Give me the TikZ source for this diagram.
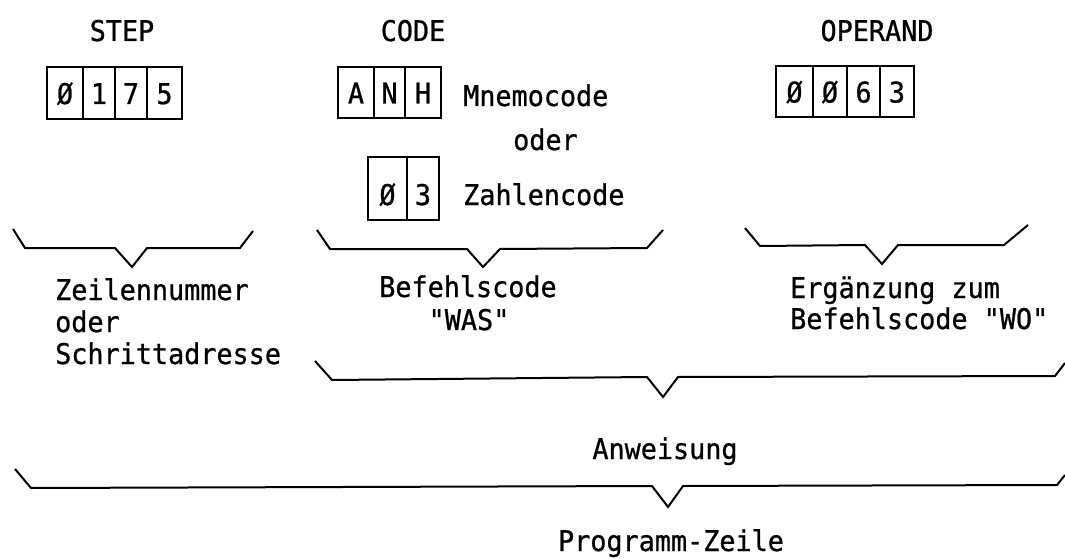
\documentclass[tikz,border=0pt]{standalone}
\usepackage{fontspec}
\setmonofont{DejaVu Sans Mono}[FakeBold=0.8, FakeStretch=0.94]
\begin{document}
\begin{tikzpicture}[x=1pt,y=-1pt,
  txt/.style={font=\ttfamily\fontsize{28.5}{32}\selectfont, inner sep=0pt},
  cell/.style={draw, line width=1.8pt, inner sep=0pt, font=\ttfamily\fontsize{28.5}{32}\selectfont,
     text height=22pt, text depth=0pt},
  brace/.style={line width=2pt, line join=miter}]
\useasboundingbox (0,0) rectangle (1065,559);
\fill[white] (0,0) rectangle (1065,559);

% headings
\node[txt, anchor=base] (hstep) at (122,41) {STEP};
\node[txt, anchor=base] (hcode) at (413,41) {CODE};
\node[txt, anchor=base] (hop) at (877,41) {OPERAND};

% STEP cells
\node[cell, minimum width=36pt, minimum height=52pt] (s1) at (65,93) {Ø};
\node[cell, minimum width=32pt, minimum height=52pt] (s2) at (99,93) {1};
\node[cell, minimum width=32pt, minimum height=52pt] (s3) at (131,93) {7};
\node[cell, minimum width=35pt, minimum height=52pt] (s4) at (164.5,93) {5};

% CODE cells
\node[cell, minimum width=36pt, minimum height=51pt] (c1) at (356,92.5) {A};
\node[cell, minimum width=31pt, minimum height=51pt] (c2) at (389.5,92.5) {N};
\node[cell, minimum width=36pt, minimum height=51pt] (c3) at (423,92.5) {H};
\node[txt, anchor=base west] (mnem) at (463,106) {Mnemocode};
\node[txt, anchor=base west] (oder1) at (513,150) {oder};
\node[cell, minimum width=39pt, minimum height=63pt, text height=33pt] (z1) at (387.5,188.5) {Ø};
\node[cell, minimum width=32pt, minimum height=63pt, text height=33pt] (z2) at (423,188.5) {3};
\node[txt, anchor=base west] (zahl) at (463,205) {Zahlencode};

% OPERAND cells
\node[cell, minimum width=37pt, minimum height=51pt] (o1) at (794.5,91.5) {Ø};
\node[cell, minimum width=34pt, minimum height=51pt] (o2) at (830,91.5) {Ø};
\node[cell, minimum width=33pt, minimum height=51pt] (o3) at (863.5,91.5) {6};
\node[cell, minimum width=34pt, minimum height=51pt] (o4) at (897,91.5) {3};

% small braces
\draw[brace] (13,229) -- (25,248) -- (115,248) -- (132,267) -- (147,248) -- (240,248) -- (253,231);
\draw[brace] (317,230) -- (330,249) -- (467,249) -- (483,267) -- (500,249) -- (647,248) -- (663,230);
\draw[brace] (745,228) -- (760,246) -- (865,245) -- (882,264) -- (898,245) -- (1004,245) -- (1028,225);

% labels
\node[txt, anchor=base west] (l1a) at (55,300) {Zeilennummer};
\node[txt, anchor=base west] (l1b) at (55,332) {oder};
\node[txt, anchor=base west] (l1c) at (55,364) {Schrittadresse};
\node[txt, anchor=base] (l2a) at (468,297) {Befehlscode};
\node[txt, anchor=base] (l2b) at (469,330) {"WAS"};
\node[txt, anchor=base west] (l3a) at (790,298) {Ergänzung zum};
\node[txt, anchor=base west] (l3b) at (790,329) {Befehlscode "WO"};

% Anweisung brace
\draw[brace] (315,361) -- (332,380) -- (647,377) -- (663,397) -- (678,377) -- (1055,376) -- (1065,363);
\node[txt, anchor=base] (anw) at (665,459) {Anweisung};

% Programm-Zeile brace
\draw[brace] (15,469) -- (31,488) -- (652,486) -- (668,507) -- (683,486) -- (1057,485) -- (1065,475);
\node[txt, anchor=base] (prog) at (671,551) {Programm-Zeile};
\end{tikzpicture}
\end{document}
